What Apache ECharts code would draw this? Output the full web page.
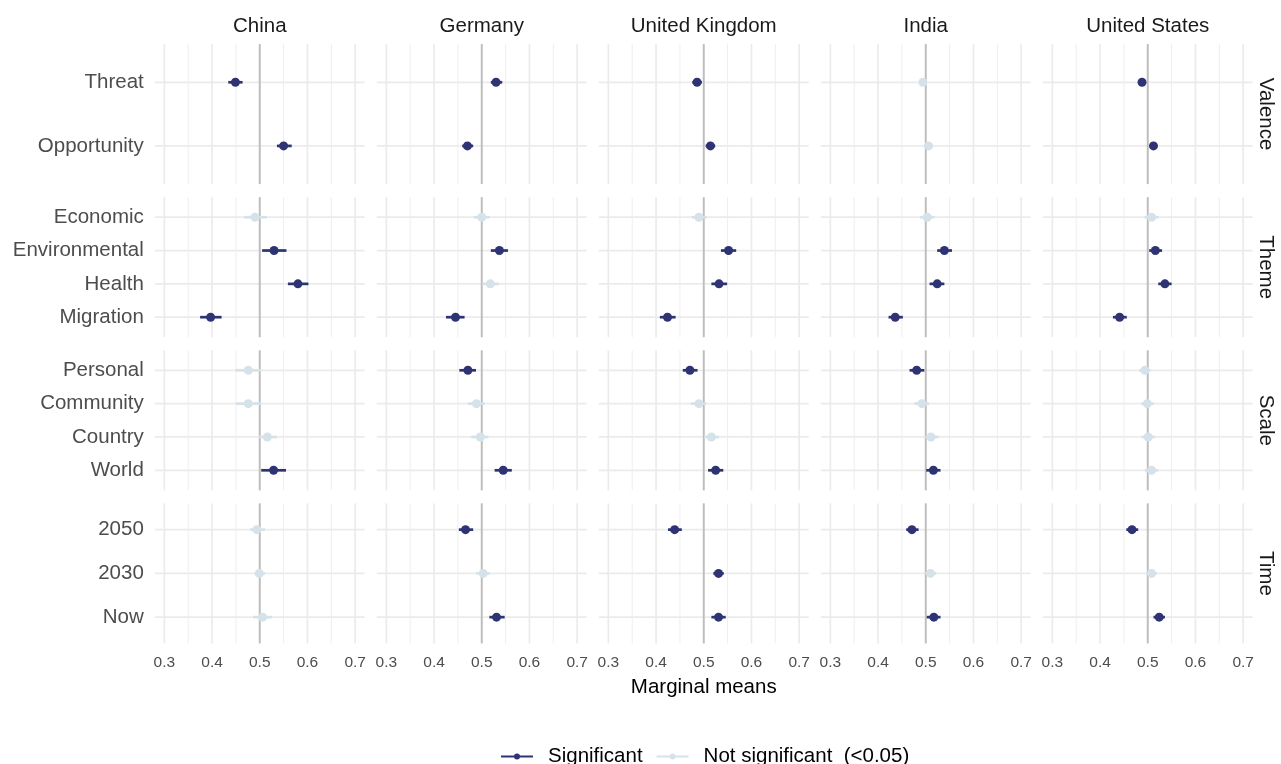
<!DOCTYPE html>
<html>
<head>
<meta charset="utf-8">
<script src="https://cdn.jsdelivr.net/npm/echarts@6/dist/echarts.min.js"></script>
<style>
html,body{margin:0;padding:0;background:#fff;}
#chart{width:1281px;height:764px;}
</style>
</head>
<body>
<div id="chart"></div>
<script>
// ---------- DATA ----------
const countries = ['China', 'Germany', 'United Kingdom', 'India', 'United States'];
const facets = ['Valence', 'Theme', 'Scale', 'Time'];
const valenceLevels = ['Threat', 'Opportunity'];
const themeLevels = ['Economic', 'Environmental', 'Health', 'Migration'];
const scaleLevels = ['Personal', 'Community', 'Country', 'World'];
const timeLevels = ['2050', '2030', 'Now'];
const xTicks = [0.3, 0.4, 0.5, 0.6, 0.7];
const xMinorTicks = [0.35, 0.45, 0.55, 0.65];
const referenceValue = 0.5;
const legendNames = ['Significant', 'Not significant  (<0.05)'];

// order: Threat, Opportunity, Economic, Environmental, Health, Migration,
//        Personal, Community, Country, World, 2050, 2030, Now
const chinaEstimate = [0.449, 0.550, 0.490, 0.530, 0.580, 0.397, 0.476, 0.476, 0.516, 0.529, 0.494, 0.499, 0.506];
const chinaLower    = [0.434, 0.536, 0.467, 0.505, 0.559, 0.375, 0.449, 0.450, 0.498, 0.503, 0.480, 0.489, 0.486];
const chinaUpper    = [0.464, 0.567, 0.515, 0.556, 0.602, 0.420, 0.503, 0.503, 0.536, 0.555, 0.511, 0.511, 0.526];
const chinaSignificant = [1, 1, 0, 1, 1, 1, 0, 0, 0, 1, 0, 0, 0];

const germanyEstimate = [0.530, 0.470, 0.500, 0.537, 0.518, 0.445, 0.471, 0.489, 0.497, 0.545, 0.466, 0.503, 0.531];
const germanyLower    = [0.519, 0.459, 0.483, 0.519, 0.501, 0.425, 0.453, 0.471, 0.478, 0.527, 0.452, 0.488, 0.516];
const germanyUpper    = [0.543, 0.482, 0.517, 0.555, 0.536, 0.464, 0.488, 0.506, 0.514, 0.563, 0.482, 0.517, 0.548];
const germanySignificant = [1, 1, 0, 1, 0, 1, 1, 0, 0, 1, 1, 0, 1];

const ukEstimate = [0.486, 0.514, 0.490, 0.552, 0.532, 0.424, 0.471, 0.490, 0.516, 0.525, 0.439, 0.531, 0.531];
const ukLower    = [0.476, 0.504, 0.475, 0.536, 0.516, 0.408, 0.456, 0.473, 0.501, 0.509, 0.425, 0.520, 0.516];
const ukUpper    = [0.496, 0.524, 0.506, 0.568, 0.549, 0.441, 0.487, 0.505, 0.532, 0.541, 0.454, 0.542, 0.546];
const ukSignificant = [1, 1, 0, 1, 1, 1, 1, 0, 0, 1, 1, 1, 1];

const indiaEstimate = [0.494, 0.506, 0.503, 0.539, 0.524, 0.436, 0.481, 0.492, 0.511, 0.516, 0.471, 0.510, 0.517];
const indiaLower    = [0.487, 0.498, 0.488, 0.524, 0.508, 0.422, 0.466, 0.476, 0.499, 0.501, 0.459, 0.499, 0.502];
const indiaUpper    = [0.500, 0.514, 0.518, 0.555, 0.539, 0.452, 0.497, 0.507, 0.527, 0.531, 0.485, 0.522, 0.531];
const indiaSignificant = [0, 0, 0, 1, 1, 1, 1, 0, 0, 1, 1, 0, 1];

const usEstimate = [0.488, 0.512, 0.508, 0.516, 0.536, 0.441, 0.494, 0.499, 0.501, 0.508, 0.467, 0.508, 0.524];
const usLower    = [0.481, 0.505, 0.493, 0.503, 0.522, 0.427, 0.482, 0.486, 0.487, 0.494, 0.455, 0.497, 0.512];
const usUpper    = [0.495, 0.519, 0.523, 0.530, 0.550, 0.456, 0.506, 0.513, 0.515, 0.522, 0.480, 0.519, 0.536];
const usSignificant = [1, 1, 0, 1, 1, 1, 0, 0, 0, 0, 1, 0, 1];

// ---------- BUILD ----------
const facetLevels = [valenceLevels, themeLevels, scaleLevels, timeLevels];
const countryData = [
  [chinaEstimate, chinaLower, chinaUpper, chinaSignificant],
  [germanyEstimate, germanyLower, germanyUpper, germanySignificant],
  [ukEstimate, ukLower, ukUpper, ukSignificant],
  [indiaEstimate, indiaLower, indiaUpper, indiaSignificant],
  [usEstimate, usLower, usUpper, usSignificant]
];

const SIG = '#2e3473';
const NSIG = '#d5e2ea';
const GRID = '#ebebeb';
const FONT = '"Liberation Sans", Arial, Helvetica, sans-serif';
const FS = 20.5;

const panelLeft0 = 154.8, panelStepX = 222, panelW = 209.9;
const panelTop0 = 44.1, panelStepY = 153.1, panelH = 140;

const grids = [], xAxes = [], yAxes = [], series = [];
let gi = 0;
for (let r = 0; r < facets.length; r++) {
  const lv = facetLevels[r];
  const offset = facetLevels.slice(0, r).reduce((s, a) => s + a.length, 0);
  for (let c = 0; c < countries.length; c++) {
    grids.push({ left: panelLeft0 + panelStepX * c, top: panelTop0 + panelStepY * r, width: panelW, height: panelH, containLabel: false });
    xAxes.push({
      gridIndex: gi, type: 'value', min: 0.28, max: 0.72,
      axisLine: { show: false }, axisTick: { show: false }, splitLine: { show: false },
      axisLabel: {
        show: r === facets.length - 1, customValues: xTicks, margin: 11,
        color: '#4d4d4d', fontSize: 15.5, fontFamily: FONT,
        formatter: v => (Math.abs(v * 10 - Math.round(v * 10)) < 1e-6 ? v.toFixed(1) : '')
      }
    });
    yAxes.push({
      gridIndex: gi, type: 'value', inverse: true, min: 0.4, max: lv.length + 0.6,
      axisLine: { show: false }, axisTick: { show: false }, splitLine: { show: false },
      axisLabel: {
        show: c === 0, customValues: lv.map((_, i) => i + 1), margin: 11,
        color: '#4d4d4d', fontSize: FS, fontFamily: FONT,
        formatter: v => (Math.abs(v - Math.round(v)) < 1e-6 && lv[Math.round(v) - 1]) ? lv[Math.round(v) - 1] : ''
      }
    });
    // gridlines: [kind, value]  kind 0=minor x, 1=major x, 2=horizontal, 3=reference
    const gl = [];
    xMinorTicks.forEach(v => gl.push([0, v]));
    lv.forEach((_, i) => gl.push([2, i + 1]));
    xTicks.forEach(v => gl.push([1, v]));
    gl.push([3, referenceValue]);
    series.push({
      type: 'custom', xAxisIndex: gi, yAxisIndex: gi, silent: true, z: 1,
      data: gl, encode: { x: -1, y: -1 },
      renderItem: (params, api) => {
        const cs = params.coordSys;
        const kind = api.value(0), v = api.value(1);
        if (kind === 2) {
          const y = api.coord([0.5, v])[1];
          return { type: 'line', z2: 2, shape: { x1: cs.x, y1: y, x2: cs.x + cs.width, y2: y }, style: { stroke: GRID, lineWidth: 1.7 } };
        }
        const x = api.coord([v, 1])[0];
        const st = kind === 0 ? { stroke: '#eeeeee', lineWidth: 1.0 } : kind === 1 ? { stroke: GRID, lineWidth: 1.7 } : { stroke: '#bdbdbd', lineWidth: 1.9 };
        return { type: 'line', z2: kind === 0 ? 0 : kind, shape: { x1: x, y1: cs.y, x2: x, y2: cs.y + cs.height }, style: st };
      }
    });
    const [est, lo, hi, sig] = countryData[c];
    [1, 0].forEach(flag => {
      const d = [];
      lv.forEach((_, i) => {
        const k = offset + i;
        if (sig[k] === flag) d.push([est[k], i + 1, lo[k], hi[k]]);
      });
      const col = flag ? SIG : NSIG;
      series.push({
        name: flag ? legendNames[0] : legendNames[1],
        type: 'custom', xAxisIndex: gi, yAxisIndex: gi, z: flag ? 6 : 5,
        itemStyle: { color: col },
        data: d, encode: { x: [0, 2, 3], y: 1 },
        renderItem: (params, api) => {
          const p = api.coord([api.value(0), api.value(1)]);
          const a = api.coord([api.value(2), api.value(1)]);
          const b = api.coord([api.value(3), api.value(1)]);
          return {
            type: 'group', children: [
              { type: 'line', shape: { x1: a[0], y1: a[1], x2: b[0], y2: b[1] }, style: { stroke: col, lineWidth: 2.7 } },
              { type: 'circle', shape: { cx: p[0], cy: p[1], r: 4.5 }, style: { fill: col } }
            ]
          };
        }
      });
    });
    gi++;
  }
}

const graphics = [];
countries.forEach((name, c) => {
  graphics.push({ type: 'text', x: panelLeft0 + panelStepX * c + panelW / 2, y: 26, silent: true,
    style: { text: name, textAlign: 'center', textVerticalAlign: 'middle', fill: '#1a1a1a', font: FS + 'px ' + FONT } });
});
facets.forEach((name, r) => {
  graphics.push({ type: 'text', x: 1266, y: panelTop0 + panelStepY * r + panelH / 2, rotation: -Math.PI / 2, silent: true,
    style: { text: name, textAlign: 'center', textVerticalAlign: 'middle', fill: '#1a1a1a', font: FS + 'px ' + FONT } });
});
graphics.push({ type: 'text', x: panelLeft0 + (panelStepX * 4 + panelW) / 2, y: 687, silent: true,
  style: { text: 'Marginal means', textAlign: 'center', textVerticalAlign: 'middle', fill: '#000', font: FS + 'px ' + FONT } });

const chart = echarts.init(document.getElementById('chart'), null, { renderer: 'canvas' });
chart.setOption({
  animation: false,
  backgroundColor: '#fff',
  grid: grids, xAxis: xAxes, yAxis: yAxes, series: series,
  graphic: graphics,
  legend: {
    data: legendNames, left: 496, top: 741, itemGap: 14, itemWidth: 32, itemHeight: 6,
    icon: 'path://M0,4 L32,4 L32,6 L0,6 Z M13,5 A3,3 0 1,1 19,5 A3,3 0 1,1 13,5 Z',
    textStyle: { fontSize: FS, fontFamily: FONT, color: '#000', padding: [0, 0, 0, 10] },
    selectedMode: false
  }
});
</script>
</body>
</html>
